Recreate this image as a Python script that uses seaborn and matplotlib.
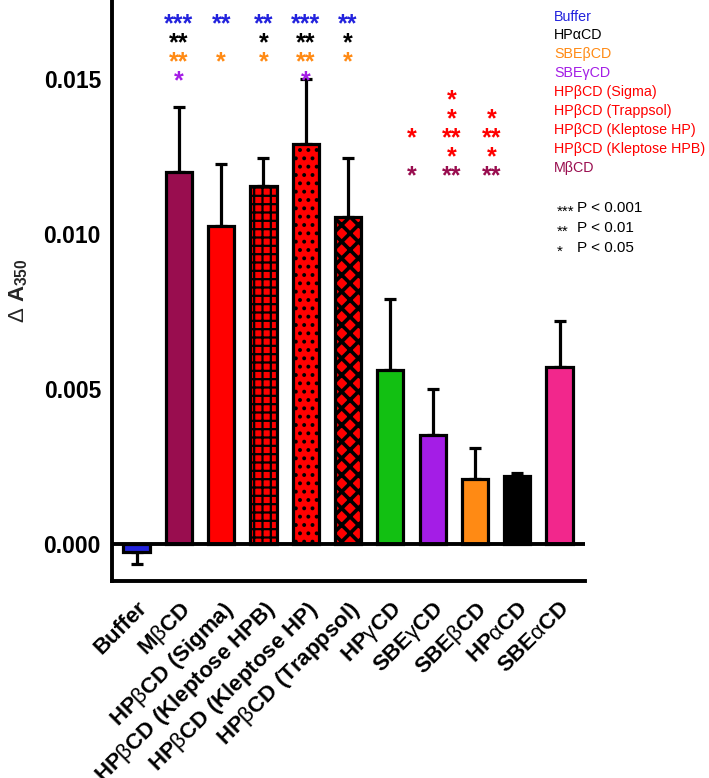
"""
Delta A350 for buffer and the cyclodextrins, bar chart with significance marks
"""

import matplotlib
matplotlib.use('Agg')
import matplotlib.pyplot as plt
import seaborn as sns
import numpy as np
import pandas as pd

# ---- data ----
groups = ['Buffer', 'MβCD', 'HPβCD (Sigma)', 'HPβCD (Kleptose HPB)',
          'HPβCD (Kleptose HP)', 'HPβCD (Trappsol)', 'HPγCD', 'SBEγCD',
          'SBEβCD', 'HPαCD', 'SBEαCD']
tick_labels = ['Buffer', r'M$\beta$CD', r'HP$\beta$CD (Sigma)',
               r'HP$\beta$CD (Kleptose HPB)', r'HP$\beta$CD (Kleptose HP)',
               r'HP$\beta$CD (Trappsol)', r'HP$\gamma$CD', r'SBE$\gamma$CD',
               r'SBE$\beta$CD', r'HP$\alpha$CD', r'SBE$\alpha$CD']
means = [-0.00025, 0.0120, 0.01026, 0.01155, 0.0129, 0.01055,
         0.0056, 0.0035, 0.0021, 0.0022, 0.0057]
errors = [0.0004, 0.0021, 0.0020, 0.0009, 0.0021, 0.0019,
          0.0023, 0.0015, 0.0010, 0.0001, 0.0015]
colors = ['#2222dd', '#990d4f', '#ff0000', '#ff0000', '#ff0000', '#ff0000',
          '#12c012', '#a41de6', '#ff8a14', '#000000', '#f2278c']
hatches = ['', '', '', '++', '..', 'xx', '', '', '', '', '']

# legend text on the right (one row each) and its colours
legend_names = ['Buffer', 'HPαCD', 'SBEβCD', 'SBEγCD', 'HPβCD (Sigma)',
                'HPβCD (Trappsol)', 'HPβCD (Kleptose HP)',
                'HPβCD (Kleptose HPB)', 'MβCD']
legend_colors = ['#2222dd', '#000000', '#ff8a14', '#a41de6', '#ff0000',
                 '#ff0000', '#ff0000', '#ff0000', '#990d4f']

# significance of bars 1..5 against the first four legend rows
top_marks = {
    0: ['***', '**', '**', '***', '**'],
    1: ['**', '', '*', '**', '*'],
    2: ['**', '*', '*', '**', '*'],
    3: ['*', '', '', '*', ''],
}
# significance in the right block, legend rows 4..8, three columns
right_marks = {
    4: ['', '*', ''],
    5: ['', '*', '*'],
    6: ['*', '**', '**'],
    7: ['', '*', '*'],
    8: ['*', '**', '**'],
}
right_cols = [6.5, 7.45, 8.4]
p_stars = ['***', '**', '*']
p_texts = ['P < 0.001', 'P < 0.01', 'P < 0.05']

df = pd.DataFrame({'group': groups, 'value': means})

sns.set_theme(style='white')
plt.rcParams['font.family'] = ['Liberation Sans', 'DejaVu Sans']
plt.rcParams['mathtext.fontset'] = 'custom'
plt.rcParams['mathtext.rm'] = 'Liberation Sans'
plt.rcParams['mathtext.bf'] = 'Liberation Sans:bold'
plt.rcParams['mathtext.default'] = 'rm'
plt.rcParams['hatch.linewidth'] = 2.0

fig = plt.figure(figsize=(7.09, 7.78), dpi=100)
ax = fig.add_axes([0.158, 0.2532, 0.667, 0.7468])

sns.barplot(data=df, x='group', y='value', hue='group', palette=colors,
            legend=False, width=0.62, edgecolor='black', linewidth=2.3,
            saturation=1, errorbar=None, ax=ax, zorder=2)

for patch, h in zip(ax.patches, hatches):
    if h:
        patch.set_hatch(h)
        if hasattr(patch, 'set_hatch_linewidth'):
            patch.set_hatch_linewidth(2.6 if h == 'xx' else 1.6)

x = np.arange(len(groups))
vals = np.array(means)
errs = np.array(errors)
lower = np.where(vals < 0, errs, 0)
upper = np.where(vals < 0, 0, errs)
ax.errorbar(x, vals, yerr=[lower, upper], fmt='none', ecolor='black',
            elinewidth=2.3, capsize=4.5, capthick=2.3, zorder=1)

ax.axhline(0, color='black', lw=2.8, zorder=3)

ax.set_xlim(-0.58, 10.6)
ax.set_ylim(-0.0012, 0.01755)
ax.set_yticks([0.0, 0.005, 0.010, 0.015])
ax.set_yticklabels(['0.000', '0.005', '0.010', '0.015'],
                   fontweight='bold', fontsize=16.5)
ax.set_xticks(x)
ax.set_xticklabels(tick_labels, rotation=45, ha='right', va='top',
                   rotation_mode='anchor', fontweight='bold', fontsize=16)
ax.set_xlabel('')
ax.set_ylabel(r'$\Delta$ A$_{\mathbf{350}}$', fontweight='bold', fontsize=16,
              labelpad=10)

sns.despine(ax=ax)
for side in ['left', 'bottom']:
    ax.spines[side].set_linewidth(2.8)
    ax.spines[side].set_color('black')
ax.tick_params(axis='both', colors='black', direction='out', length=6,
               width=2.8, pad=2)
ax.tick_params(axis='x', pad=6)

# significance marks and legend text
trans = ax.get_xaxis_transform()


def row_y(i):
    return 1 - (16.5 + 18.9 * i) / 581


for row, marks in top_marks.items():
    for k, m in enumerate(marks):
        if m:
            ax.text(k + 1, row_y(row) - 0.014, m, transform=trans,
                    ha='center', va='center', fontsize=18, fontweight='bold',
                    color=legend_colors[row])

for row, marks in right_marks.items():
    for xc, m in zip(right_cols, marks):
        if m:
            ax.text(xc, row_y(row) - 0.014, m, transform=trans,
                    ha='center', va='center', fontsize=18, fontweight='bold',
                    color=legend_colors[row])

for i, (name, c) in enumerate(zip(legend_names, legend_colors)):
    ax.text(9.87, row_y(i), name, transform=trans, ha='left', va='center',
            fontsize=10.3, color=c)

for i, (s, p) in enumerate(zip(p_stars, p_texts)):
    yy = 1 - (208 + 20 * i) / 581
    ax.text(9.94, yy - 0.006, s, transform=trans, ha='left', va='center',
            fontsize=11, color='black')
    ax.text(10.41, yy, p, transform=trans, ha='left', va='center',
            fontsize=11, color='black')

fig.savefig('out.png', dpi=100)
